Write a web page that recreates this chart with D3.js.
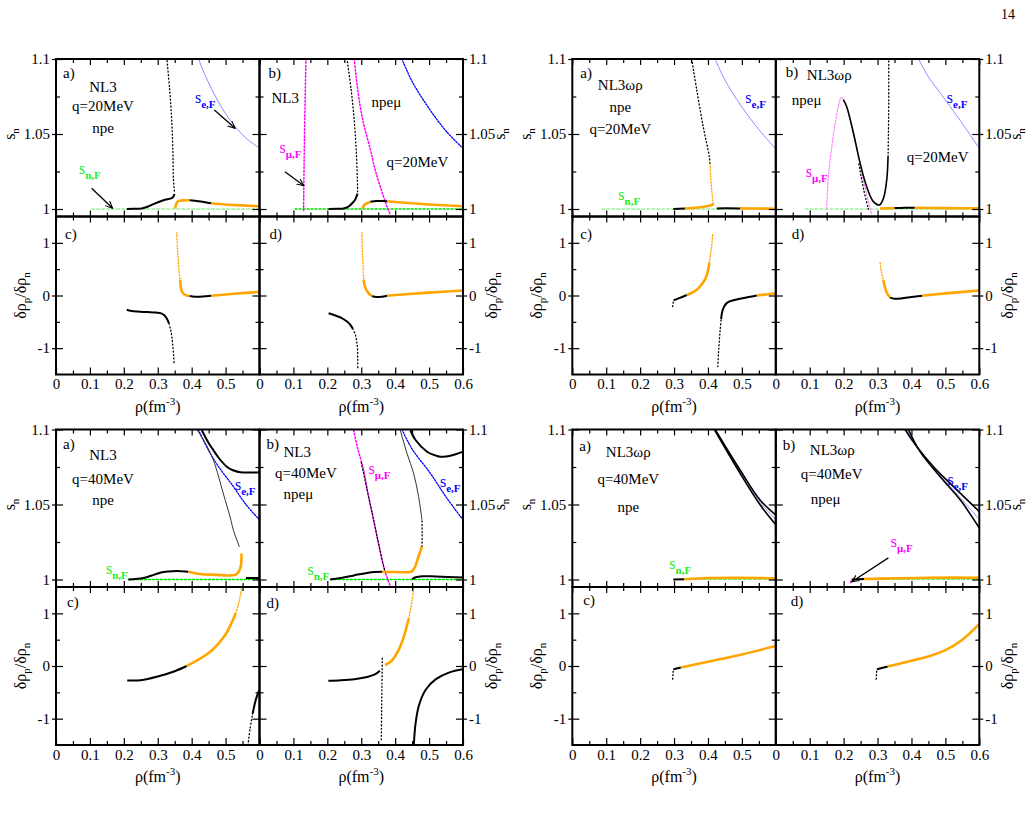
<!DOCTYPE html>
<html>
<head>
<meta charset="utf-8">
<script src="https://cdn.jsdelivr.net/npm/d3@7"></script>
<style>
  body { margin: 0; background: #fff; }
  svg { display: block; font-family: "Liberation Serif", "Times New Roman", serif; }
</style>
</head>
<body>
<svg id="chart" width="1036" height="817"></svg>
<script>
// ---- axis ticks ----
var xMajor = [0, 0.1, 0.2, 0.3, 0.4, 0.5, 0.6];
var xMinor = [0.05, 0.15, 0.25, 0.35, 0.45, 0.55];
var sMajor = [1, 1.05, 1.1];
var sMinor = [1.025, 1.075];
var dMajor = [-1, 0, 1];
var dMinor = [-0.5, 0.5];

// ---- NL3, q=20MeV (top left) ----
var tlA_snF = [[0.105, 1], [0.6, 1]];
var tlA_seF = [[0.42, 1.1], [0.44, 1.089], [0.47, 1.075], [0.5, 1.0635], [0.53, 1.0545], [0.56, 1.0473], [0.6, 1.0405]];
var tlA_dot = [[0.349, 1.012], [0.3462, 1.02], [0.3445, 1.04], [0.341, 1.06], [0.335, 1.08], [0.327, 1.1]];
var tlA_bk1 = [[0.2086, 1.0], [0.23, 1.0001], [0.2528, 1.0004], [0.27, 1.0015], [0.2872, 1.0033], [0.3167, 1.0058], [0.3413, 1.0073], [0.3462, 1.0082], [0.3491, 1.01]];
var tlA_or1 = [[0.3511, 1.0004], [0.354, 1.003], [0.358, 1.0048], [0.364, 1.0055], [0.38, 1.0058], [0.394, 1.0058]];
var tlA_bk2 = [[0.394, 1.0058], [0.42, 1.0052], [0.44, 1.0045], [0.458, 1.0038]];
var tlA_or2 = [[0.458, 1.0038], [0.5, 1.003], [0.55, 1.0024], [0.6, 1.0018]];

var tlB_snF = [[0.105, 1], [0.6, 1]];
var tlB_mu1 = [[0.13, 0.999], [0.1315, 1.03], [0.1335, 1.06], [0.137, 1.1]];
var tlB_mu2 = [[0.2794, 1.1], [0.285, 1.088], [0.297, 1.0682], [0.31, 1.054], [0.327, 1.0396], [0.34, 1.027], [0.356, 1.0149], [0.376, 1.0016], [0.386, 0.996]];
var tlB_seF = [[0.42, 1.1], [0.45, 1.085], [0.5, 1.067], [0.55, 1.052], [0.6, 1.0404]];
var tlB_dot = [[0.2892, 1.0115], [0.2885, 1.02], [0.285, 1.04], [0.279, 1.06], [0.27, 1.08], [0.258, 1.1]];
var tlB_bk1 = [[0.2037, 1.0], [0.23, 1.0001], [0.248, 1.0004], [0.26, 1.0012], [0.268, 1.0027], [0.276, 1.0045], [0.2823, 1.0064], [0.2892, 1.0102]];
var tlB_or1 = [[0.304, 1.0], [0.307, 1.002], [0.312, 1.0033], [0.317, 1.0038], [0.327, 1.0048]];
var tlB_bk2 = [[0.327, 1.0048], [0.345, 1.0053], [0.36, 1.0054], [0.376, 1.0052]];
var tlB_or2 = [[0.376, 1.0052], [0.42, 1.0043], [0.5, 1.003], [0.6, 1.0018]];

var tlC_bk1 = [[0.2086, -0.27], [0.22, -0.29], [0.24, -0.305], [0.27, -0.315], [0.295, -0.325], [0.31, -0.34], [0.32, -0.38], [0.327, -0.44], [0.333, -0.53]];
var tlC_dot = [[0.333, -0.53], [0.338, -0.65], [0.342, -0.8], [0.345, -1.0], [0.347, -1.15], [0.348, -1.28]];
var tlC_ord = [[0.356, 1.19], [0.358, 0.9], [0.36, 0.7], [0.363, 0.45], [0.366, 0.3]];
var tlC_or1 = [[0.366, 0.3], [0.37, 0.1], [0.376, 0.03], [0.385, 0.0], [0.394, -0.01]];
var tlC_bk2 = [[0.394, -0.01], [0.41, -0.025], [0.43, -0.02], [0.458, -0.005]];
var tlC_or2 = [[0.458, -0.005], [0.5, 0.02], [0.55, 0.045], [0.6, 0.07]];

var tlD_bk1 = [[0.2037, -0.336], [0.22, -0.37], [0.24, -0.42], [0.258, -0.495], [0.268, -0.56], [0.275, -0.63]];
var tlD_dot = [[0.275, -0.63], [0.283, -0.75], [0.287, -0.9], [0.289, -1.0], [0.2895, -1.2], [0.29, -1.38]];
var tlD_ord = [[0.302, 1.19], [0.303, 0.9], [0.305, 0.6], [0.307, 0.3]];
var tlD_or1 = [[0.307, 0.3], [0.312, 0.15], [0.322, 0.04], [0.332, -0.015]];
var tlD_bk2 = [[0.332, -0.015], [0.345, -0.03], [0.36, -0.025], [0.376, -0.005]];
var tlD_or2 = [[0.376, -0.005], [0.42, 0.02], [0.5, 0.055], [0.6, 0.095]];

// ---- NL3wr, q=20MeV (top right) ----
var trA_snF = [[0.0867, 1], [0.6, 1]];
var trA_seF = [[0.421, 1.1], [0.45, 1.086], [0.5, 1.068], [0.55, 1.053], [0.6, 1.04]];
var trA_dot = [[0.352, 1.1], [0.367, 1.0793], [0.386, 1.0549], [0.404, 1.0349], [0.406, 1.03]];
var trA_ord = [[0.406, 1.03], [0.408, 1.0216], [0.413, 1.0082], [0.416, 1.0038]];
var trA_bk1 = [[0.298, 1.0], [0.332, 1.0003]];
var trA_or1 = [[0.332, 1.0003], [0.37, 1.001], [0.395, 1.0018], [0.41, 1.0025], [0.416, 1.0035]];
var trA_bk2 = [[0.426, 1.0003], [0.45, 1.0005], [0.495, 1.0004]];
var trA_or2 = [[0.495, 1.0004], [0.55, 1.0003], [0.6, 1.0002]];

var trB_snF = [[0.0865, 1], [0.6, 1]];
var trB_mu = [[0.15, 1.0], [0.155, 1.0213], [0.165, 1.0413], [0.175, 1.0573], [0.185, 1.069], [0.1927, 1.0742], [0.2, 1.073], [0.209, 1.0682], [0.229, 1.0505], [0.2487, 1.0304], [0.258, 1.0193], [0.27, 1.008], [0.2826, 0.9964]];
var trB_seF = [[0.421, 1.1], [0.45, 1.088], [0.486, 1.077], [0.5437, 1.059], [0.6, 1.0404]];
var trB_bk1 = [[0.199, 1.0729], [0.209, 1.0682], [0.229, 1.0505], [0.2487, 1.0304], [0.268, 1.0149], [0.2877, 1.0049], [0.3056, 1.0027], [0.3174, 1.0071], [0.327, 1.0193], [0.331, 1.0349]];
var trB_dot = [[0.331, 1.0349], [0.332, 1.05], [0.333, 1.07], [0.333, 1.1]];
var trB_dot2 = [[0.245, 1.03], [0.26, 1.012], [0.273, 1.0]];
var trB_or1 = [[0.307, 1.0003], [0.35, 1.0006]];
var trB_bk2 = [[0.35, 1.0006], [0.38, 1.0009], [0.41, 1.0008]];
var trB_or2 = [[0.41, 1.0008], [0.5, 1.0006], [0.6, 1.0005]];

var trC_dot1 = [[0.296, -0.21], [0.297, -0.15], [0.2986, -0.09]];
var trC_bk1 = [[0.2986, -0.09], [0.315, -0.05], [0.3375, 0.01]];
var trC_or1 = [[0.3375, 0.01], [0.355, 0.06], [0.367, 0.108], [0.38, 0.2], [0.391, 0.3], [0.398, 0.42], [0.404, 0.62]];
var trC_ord = [[0.404, 0.62], [0.408, 0.8], [0.411, 0.94], [0.414, 1.16]];
var trC_dot2 = [[0.429, -1.35], [0.431, -1.1], [0.433, -0.9], [0.436, -0.65], [0.439, -0.45]];
var trC_bk2 = [[0.439, -0.45], [0.441, -0.335], [0.447, -0.22], [0.456, -0.14], [0.475, -0.09], [0.495, -0.06], [0.52, -0.03], [0.544, 0.0]];
var trC_or2 = [[0.544, 0.0], [0.57, 0.02], [0.6, 0.04]];

var trD_ord = [[0.3077, 0.62], [0.31, 0.5], [0.313, 0.4], [0.317, 0.3]];
var trD_or1 = [[0.317, 0.3], [0.322, 0.15], [0.33, 0.02], [0.337, -0.04]];
var trD_bk = [[0.337, -0.04], [0.35, -0.06], [0.37, -0.055], [0.4, -0.03], [0.431, -0.005]];
var trD_or2 = [[0.431, -0.005], [0.5, 0.04], [0.6, 0.095]];

// ---- NL3, q=40MeV (bottom left) ----
var blA_snF = [[0.2134, 1], [0.6, 1]];
var blA_seF = [[0.4195, 1.1], [0.45, 1.086], [0.48, 1.075], [0.523, 1.062], [0.56, 1.05], [0.6, 1.0398]];
var blA_bk1 = [[0.2134, 1.0], [0.2577, 1.001], [0.28, 1.0025], [0.307, 1.0045], [0.33, 1.0053], [0.356, 1.0056], [0.3905, 1.0052]];
var blA_or1 = [[0.3905, 1.0052], [0.425, 1.0037], [0.474, 1.0031], [0.513, 1.0027], [0.53, 1.0032], [0.538, 1.005], [0.5448, 1.0087], [0.547, 1.0173]];
var blA_thin = [[0.541, 1.0217], [0.5232, 1.0328], [0.5134, 1.0416], [0.4937, 1.057], [0.464, 1.0796], [0.44, 1.091], [0.4152, 1.1]];
var blA_top = [[0.43, 1.0995], [0.45, 1.091], [0.4641, 1.0862], [0.48, 1.081], [0.5036, 1.0752], [0.52, 1.073], [0.543, 1.0715], [0.6, 1.0715]];
var blA_bk2 = [[0.56, 1.001], [0.6, 1.001]];

var blB_snF = [[0.2086, 1], [0.6, 1]];
var blB_mu = [[0.2774, 1.0995], [0.29, 1.087], [0.307, 1.073], [0.32, 1.057], [0.3364, 1.0398], [0.35, 1.025], [0.366, 1.0088], [0.375, 1.002], [0.3857, 0.9956]];
var blB_muBk = [[0.3, 1.078], [0.32, 1.057], [0.3364, 1.0398], [0.35, 1.025], [0.366, 1.0088], [0.372, 1.004]];
var blB_seF = [[0.42, 1.1], [0.45, 1.087], [0.5037, 1.0708], [0.55, 1.055], [0.6, 1.0398]];
var blB_bk1 = [[0.2086, 1.0], [0.24, 1.001], [0.2676, 1.0022], [0.29, 1.0033], [0.317, 1.0044], [0.34, 1.005], [0.362, 1.0051]];
var blB_or1 = [[0.362, 1.0051], [0.4, 1.005], [0.4447, 1.005], [0.452, 1.006], [0.4594, 1.0088], [0.469, 1.0155], [0.479, 1.022]];
var blB_dot = [[0.479, 1.022], [0.4795, 1.03], [0.479, 1.0398]];
var blB_thin = [[0.479, 1.0398], [0.469, 1.0553], [0.4544, 1.0708], [0.435, 1.084], [0.415, 1.0995]];
var blB_top = [[0.4447, 1.0995], [0.46, 1.093], [0.494, 1.0852], [0.515, 1.083], [0.533, 1.0818], [0.55, 1.082], [0.571, 1.083], [0.6, 1.0852]];
var blB_bk2 = [[0.45, 1.0003], [0.46, 1.0015], [0.48, 1.0022], [0.52, 1.002], [0.6, 1.0013]];

var blC_bk1 = [[0.21, -0.275], [0.25, -0.27], [0.3, -0.2], [0.35, -0.1], [0.385, 0.0]];
var blC_or = [[0.385, 0.0], [0.42, 0.12], [0.46, 0.3], [0.5, 0.6], [0.52, 0.85], [0.53, 1.0]];
var blC_ord = [[0.53, 1.0], [0.537, 1.15], [0.544, 1.35], [0.548, 1.5]];
var blC_dot = [[0.566, -1.5], [0.572, -1.2], [0.58, -0.9]];
var blC_bk2 = [[0.58, -0.9], [0.59, -0.62], [0.6, -0.45]];

var blD_bk1 = [[0.203, -0.28], [0.24, -0.27], [0.28, -0.25], [0.31, -0.22], [0.34, -0.16], [0.355, -0.09]];
var blD_dot = [[0.359, -1.4], [0.36, -0.9], [0.361, -0.4], [0.362, 0.15]];
var blD_or = [[0.37, 0.02], [0.39, 0.1], [0.41, 0.3], [0.425, 0.55], [0.44, 0.9]];
var blD_ord = [[0.44, 0.9], [0.45, 1.25], [0.455, 1.5]];
var blD_bk2 = [[0.455, -1.5], [0.46, -1.1], [0.47, -0.75], [0.49, -0.45], [0.52, -0.25], [0.56, -0.12], [0.6, -0.06]];

// ---- NL3wr, q=40MeV (bottom right) ----
var brA_snF = [[0.298, 1], [0.6, 1]];
var brA_up = [[0.421, 1.1], [0.4947, 1.073], [0.5537, 1.053], [0.6, 1.043]];
var brA_lo = [[0.419, 1.1], [0.4947, 1.0708], [0.5537, 1.0498], [0.6, 1.0365]];
var brA_seF = [[0.42, 1.1], [0.4947, 1.072], [0.5537, 1.0515], [0.6, 1.04]];
var brA_bk = [[0.298, 1.0], [0.33, 1.0002]];
var brA_or = [[0.33, 1.0002], [0.4, 1.001], [0.5, 1.0012], [0.6, 1.0008]];

var brB_snF = [[0.224, 1], [0.6, 1]];
var brB_up = [[0.381, 1.1], [0.416, 1.0885], [0.465, 1.0752], [0.524, 1.0619], [0.6, 1.0453]];
var brB_lo = [[0.3912, 1.1], [0.4257, 1.0851], [0.4847, 1.0685], [0.5437, 1.0531], [0.6, 1.0343]];
var brB_seF = [[0.386, 1.1], [0.42, 1.087], [0.475, 1.072], [0.53, 1.058], [0.6, 1.04]];
var brB_mu = [[0.221, 0.998], [0.223, 1.0]];
var brB_bk = [[0.224, 1.0], [0.26, 1.0003]];
var brB_or = [[0.26, 1.0003], [0.35, 1.0008], [0.45, 1.0012], [0.6, 1.0012]];

var brC_dot = [[0.296, -0.25], [0.297, -0.15], [0.298, -0.06]];
var brC_bk = [[0.298, -0.06], [0.32, -0.03]];
var brC_or = [[0.32, -0.03], [0.4, 0.08], [0.5, 0.22], [0.6, 0.38]];

var brD_dot = [[0.296, -0.25], [0.297, -0.15], [0.298, -0.06]];
var brD_bk = [[0.298, -0.06], [0.33, -0.01]];
var brD_or = [[0.33, -0.01], [0.4, 0.1], [0.45, 0.18], [0.5, 0.3], [0.55, 0.5], [0.6, 0.8]];

// ---- line styles ----
var ST = {
  black:     { c: "#000", w: 2 },
  mid:       { c: "#000", w: 1.6 },
  thin:      { c: "#333", w: 1 },
  blackDot:  { c: "#000", w: 1.3, d: "1,2.5" },
  orange:    { c: "#ffa500", w: 2.6 },
  orangeDot: { c: "#ffa500", w: 1.4, d: "1,2" },
  greenDash: { c: "#66ee66", w: 1, d: "3,2" },
  greenDot:  { c: "#00dd00", w: 1.5, d: "2,2" },
  blueThin:  { c: "#8c8cff", w: 1 },
  blueDot:   { c: "#0000ff", w: 1.3, d: "1.5,1.5" },
  magDot:    { c: "#ff00ff", w: 1.5, d: "1.5,2" },
  magLight:  { c: "#ff88ff", w: 1.2, d: "2,1.5" }
};

var W = 203.5, HT = 157.5, HB = 158;
var xScale = d3.scaleLinear().domain([0, 0.6]).range([0, W]);
var sScale = d3.scaleLinear().domain([0.995, 1.1]).range([HT, 0]);
var dScale = d3.scaleLinear().domain([-1.5, 1.5]).range([HB, 0]);

var svg = d3.select("#chart");
var defs = svg.append("defs");
defs.append("marker").attr("id", "arr").attr("viewBox", "0 0 10 10")
  .attr("refX", 9).attr("refY", 5).attr("markerWidth", 8).attr("markerHeight", 8)
  .attr("orient", "auto").attr("markerUnits", "userSpaceOnUse")
  .append("path").attr("d", "M0,1 L9,5 L0,9").attr("fill", "none").attr("stroke", "#000").attr("stroke-width", 1.3);

var clipN = 0;
var COL = { e: "#0000ff", n: "#22ee22", mu: "#ff00ff" };

function fmtX(d) { return d === 0 ? "0" : d3.format(".1f")(d); }
function fmtS(d) { return d === 1 ? "1" : (d === 1.1 ? "1.1" : "1.05"); }
function fmtD(d) { return String(d); }

function axis(g, ax, tx, ty, size, fmt) {
  var a = g.append("g").attr("transform", "translate(" + tx + "," + ty + ")").call(ax.tickSize(size).tickFormat(fmt || ""));
  a.select(".domain").remove();
  a.attr("font-family", null).attr("font-size", null);
  a.selectAll("line").attr("stroke", "#000").attr("stroke-width", 1.2);
  a.selectAll("text").attr("font-size", 15).attr("fill", "#000");
  return a;
}

function drawPanel(ox, oy, kind, side, spec) {
  var h = kind === "s" ? HT : HB;
  var y = kind === "s" ? sScale : dScale;
  var yMaj = kind === "s" ? sMajor : dMajor;
  var yMin = kind === "s" ? sMinor : dMinor;
  var yFmt = kind === "s" ? fmtS : fmtD;
  var g = svg.append("g").attr("transform", "translate(" + ox + "," + oy + ")");
  var cid = "clip" + (clipN++);
  defs.append("clipPath").attr("id", cid).append("rect").attr("width", W).attr("height", h);

  var plot = g.append("g").attr("clip-path", "url(#" + cid + ")");
  var line = d3.line().x(function(d) { return xScale(d[0]); }).y(function(d) { return y(d[1]); })
    .curve(d3.curveCatmullRom.alpha(0.5));
  spec.series.forEach(function(s) {
    var st = ST[s[1]];
    plot.append("path").attr("d", line(s[0])).attr("fill", "none")
      .attr("stroke", st.c).attr("stroke-width", st.w)
      .attr("stroke-dasharray", st.d || null)
      .attr("stroke-linecap", st.d ? "round" : "butt");
  });

  // x ticks
  axis(g, d3.axisTop(xScale).tickValues(xMajor), 0, 0, -6);
  axis(g, d3.axisTop(xScale).tickValues(xMinor), 0, 0, -4);
  if (kind === "d") {
    var xf = side === "a" ? function(d) { return d === 0.6 ? "" : fmtX(d); } : fmtX;
    axis(g, d3.axisBottom(xScale).tickValues(xMajor).tickPadding(4), 0, h, -7, xf);
  } else {
    axis(g, d3.axisBottom(xScale).tickValues(xMajor), 0, h, -6);
  }
  axis(g, d3.axisBottom(xScale).tickValues(xMinor), 0, h, -4);

  // y ticks
  if (side === "a") {
    var la = axis(g, d3.axisLeft(y).tickValues(yMaj).tickPadding(6), 0, 0, -7, yFmt);
    la.selectAll("line").attr("x1", -4);
    axis(g, d3.axisRight(y).tickValues(yMaj), W, 0, -7);
  } else {
    axis(g, d3.axisLeft(y).tickValues(yMaj), 0, 0, -7);
    var ra = axis(g, d3.axisRight(y).tickValues(yMaj).tickPadding(6), W, 0, -7, yFmt);
    ra.selectAll("line").attr("x1", 4);
  }
  axis(g, d3.axisLeft(y).tickValues(yMin), 0, 0, -4);
  axis(g, d3.axisRight(y).tickValues(yMin), W, 0, -4);

  g.append("rect").attr("width", W).attr("height", h).attr("fill", "none")
    .attr("stroke", "#000").attr("stroke-width", 2);

  (spec.arrows || []).forEach(function(a) {
    g.append("line").attr("x1", xScale(a[0][0])).attr("y1", y(a[0][1]))
      .attr("x2", xScale(a[1][0])).attr("y2", y(a[1][1]))
      .attr("stroke", "#000").attr("stroke-width", 1.3).attr("marker-end", "url(#arr)");
  });

  (spec.texts || []).forEach(function(t) {
    if (t.sub) {
      var tx = g.append("text").attr("x", t.x).attr("y", t.y).attr("fill", COL[t.col]);
      tx.append("tspan").attr("font-size", 16).text("s");
      tx.append("tspan").attr("font-size", 11).attr("font-weight", "bold").attr("dy", 5).text(t.sub);
    } else {
      g.append("text").attr("x", t.x).attr("y", t.y).attr("font-size", 15)
        .attr("text-anchor", t.a || "start").text(t.t);
    }
  });
}

function rotLabel(x, y, parts) {
  var t = svg.append("text").attr("transform", "translate(" + x + "," + y + ") rotate(-90)")
    .attr("text-anchor", "middle").attr("font-size", 16);
  parts.forEach(function(p) {
    t.append("tspan").attr("font-size", p[1] ? 11 : 16).attr("dy", p[2] || 0).text(p[0]);
  });
}

function xTitle(cx, yb) {
  var t = svg.append("text").attr("x", cx).attr("y", yb).attr("text-anchor", "middle").attr("font-size", 16);
  t.append("tspan").text("ρ(fm");
  t.append("tspan").attr("font-size", 11).attr("dy", -7).text("-3");
  t.append("tspan").attr("dy", 7).text(")");
}

function figure(ax, top, P) {
  var bx = ax + W;
  drawPanel(ax, top, "s", "a", P.a);
  drawPanel(bx, top, "s", "b", P.b);
  drawPanel(ax, top + HT, "d", "a", P.c);
  drawPanel(bx, top + HT, "d", "b", P.d);
  var ys = top + sScale(1.05);
  var yd = top + HT + dScale(0);
  rotLabel(ax - 41, ys, [["s"], ["n", 1, 4]]);
  rotLabel(ax - 30, yd, [["δρ"], ["p", 1, 4], ["/δρ", 0, -4], ["n", 1, 4]]);
  rotLabel(bx + W + 42, ys, [["s"], ["n", 1, 4]]);
  rotLabel(bx + W + 34, yd, [["δρ"], ["p", 1, 4], ["/δρ", 0, -4], ["n", 1, 4]]);
  var yb = top + HT + HB + 37;
  xTitle(ax + W / 2, yb);
  xTitle(bx + W / 2, yb);
}

figure(56, 59, {
  a: { series: [[tlA_snF, "greenDash"], [tlA_seF, "blueThin"], [tlA_dot, "blackDot"], [tlA_bk1, "black"], [tlA_or1, "orange"], [tlA_bk2, "black"], [tlA_or2, "orange"]],
       texts: [{ t: "a)", x: 7, y: 19 }, { t: "NL3", x: 47, y: 33, a: "middle" }, { t: "q=20MeV", x: 47, y: 52, a: "middle" }, { t: "npe", x: 47, y: 74, a: "middle" },
               { sub: "e,F", col: "e", x: 139, y: 44 }, { sub: "n,F", col: "n", x: 23, y: 115 }],
       arrows: [[[0.467, 1.066], [0.528, 1.0538]], [[0.105, 1.0138], [0.167, 1.0005]]] },
  b: { series: [[tlB_snF, "greenDot"], [tlB_seF, "blueDot"], [tlB_mu1, "magDot"], [tlB_mu2, "magDot"], [tlB_dot, "blackDot"], [tlB_bk1, "black"], [tlB_or1, "orange"], [tlB_bk2, "black"], [tlB_or2, "orange"]],
       texts: [{ t: "b)", x: 9, y: 19 }, { t: "NL3", x: 12, y: 44 }, { t: "npeμ", x: 112, y: 48 }, { t: "q=20MeV", x: 127, y: 108 },
               { sub: "μ,F", col: "mu", x: 20, y: 94 }],
       arrows: [[[0.075, 1.0249], [0.131, 1.0155]]] },
  c: { series: [[tlC_dot, "blackDot"], [tlC_bk1, "black"], [tlC_ord, "orangeDot"], [tlC_or1, "orange"], [tlC_bk2, "black"], [tlC_or2, "orange"]],
       texts: [{ t: "c)", x: 9, y: 22 }] },
  d: { series: [[tlD_dot, "blackDot"], [tlD_bk1, "black"], [tlD_ord, "orangeDot"], [tlD_or1, "orange"], [tlD_bk2, "black"], [tlD_or2, "orange"]],
       texts: [{ t: "d)", x: 10, y: 22 }] }
});

figure(572.3, 59, {
  a: { series: [[trA_snF, "greenDash"], [trA_seF, "blueThin"], [trA_dot, "blackDot"], [trA_ord, "orangeDot"], [trA_bk1, "black"], [trA_or1, "orange"], [trA_bk2, "black"], [trA_or2, "orange"]],
       texts: [{ t: "a)", x: 8, y: 19 }, { t: "NL3ωρ", x: 48, y: 31, a: "middle" }, { t: "npe", x: 48, y: 53, a: "middle" }, { t: "q=20MeV", x: 48, y: 75, a: "middle" },
               { sub: "e,F", col: "e", x: 173, y: 44 }, { sub: "n,F", col: "n", x: 46, y: 141 }] },
  b: { series: [[trB_snF, "greenDash"], [trB_seF, "blueThin"], [trB_mu, "magLight"], [trB_dot, "blackDot"], [trB_dot2, "blackDot"], [trB_bk1, "mid"], [trB_or1, "orange"], [trB_bk2, "black"], [trB_or2, "orange"]],
       texts: [{ t: "b)", x: 10, y: 18 }, { t: "NL3ωρ", x: 31, y: 21 }, { t: "npeμ", x: 16, y: 46 }, { t: "q=20MeV", x: 131, y: 103 },
               { sub: "e,F", col: "e", x: 171, y: 44 }, { sub: "μ,F", col: "mu", x: 30, y: 118 }] },
  c: { series: [[trC_dot1, "blackDot"], [trC_bk1, "black"], [trC_or1, "orange"], [trC_ord, "orangeDot"], [trC_dot2, "blackDot"], [trC_bk2, "black"], [trC_or2, "orange"]],
       texts: [{ t: "c)", x: 8, y: 22 }] },
  d: { series: [[trD_ord, "orangeDot"], [trD_or1, "orange"], [trD_bk, "black"], [trD_or2, "orange"]],
       texts: [{ t: "d)", x: 16, y: 22 }] }
});

figure(56, 429.5, {
  a: { series: [[blA_snF, "greenDot"], [blA_seF, "blueDot"], [blA_thin, "thin"], [blA_top, "black"], [blA_bk1, "black"], [blA_or1, "orange"], [blA_bk2, "black"]],
       texts: [{ t: "a)", x: 7, y: 19 }, { t: "NL3", x: 47, y: 30.5, a: "middle" }, { t: "q=40MeV", x: 47, y: 54.5, a: "middle" }, { t: "npe", x: 47, y: 75.5, a: "middle" },
               { sub: "e,F", col: "e", x: 179, y: 60.5 }, { sub: "n,F", col: "n", x: 50, y: 144 }] },
  b: { series: [[blB_snF, "greenDot"], [blB_seF, "blueDot"], [blB_mu, "magDot"], [blB_muBk, "blackDot"], [blB_dot, "blackDot"], [blB_thin, "thin"], [blB_top, "black"], [blB_bk1, "black"], [blB_or1, "orange"], [blB_bk2, "black"]],
       texts: [{ t: "b)", x: 7, y: 19 }, { t: "NL3", x: 24, y: 27 }, { t: "q=40MeV", x: 15.5, y: 48 }, { t: "npeμ", x: 24, y: 69 },
               { sub: "μ,F", col: "mu", x: 109, y: 44 }, { sub: "e,F", col: "e", x: 180.5, y: 57 }, { sub: "n,F", col: "n", x: 48, y: 145.5 }] },
  c: { series: [[blC_bk1, "black"], [blC_or, "orange"], [blC_ord, "orangeDot"], [blC_dot, "blackDot"], [blC_bk2, "black"]],
       texts: [{ t: "c)", x: 11, y: 20 }] },
  d: { series: [[blD_bk1, "black"], [blD_dot, "blackDot"], [blD_or, "orange"], [blD_ord, "orangeDot"], [blD_bk2, "black"]],
       texts: [{ t: "d)", x: 7, y: 21 }] }
});

figure(572.3, 429.5, {
  a: { series: [[brA_snF, "greenDash"], [brA_seF, "blueThin"], [brA_up, "mid"], [brA_lo, "mid"], [brA_bk, "black"], [brA_or, "orange"]],
       texts: [{ t: "a)", x: 7, y: 21 }, { t: "NL3ωρ", x: 56, y: 27, a: "middle" }, { t: "q=40MeV", x: 56, y: 54, a: "middle" }, { t: "npe", x: 56, y: 82, a: "middle" },
               { sub: "n,F", col: "n", x: 97, y: 139 }] },
  b: { series: [[brB_snF, "greenDash"], [brB_seF, "blueThin"], [brB_up, "mid"], [brB_lo, "mid"], [brB_mu, "magDot"], [brB_bk, "black"], [brB_or, "orange"]],
       texts: [{ t: "b)", x: 7, y: 20.5 }, { t: "NL3ωρ", x: 34, y: 25.5 }, { t: "q=40MeV", x: 25, y: 49 }, { t: "npeμ", x: 35, y: 74 },
               { sub: "e,F", col: "e", x: 171.6, y: 55.5 }, { sub: "μ,F", col: "mu", x: 115, y: 117 }],
       arrows: [[[0.332, 1.0144], [0.224, 0.9985]]] },
  c: { series: [[brC_dot, "blackDot"], [brC_bk, "black"], [brC_or, "orange"]],
       texts: [{ t: "c)", x: 11, y: 18 }] },
  d: { series: [[brD_dot, "blackDot"], [brD_bk, "black"], [brD_or, "orange"]],
       texts: [{ t: "d)", x: 15, y: 19 }] }
});

svg.append("text").attr("x", 1015).attr("y", 19).attr("text-anchor", "end").attr("font-size", 14).text("14");
</script>
</body>
</html>
